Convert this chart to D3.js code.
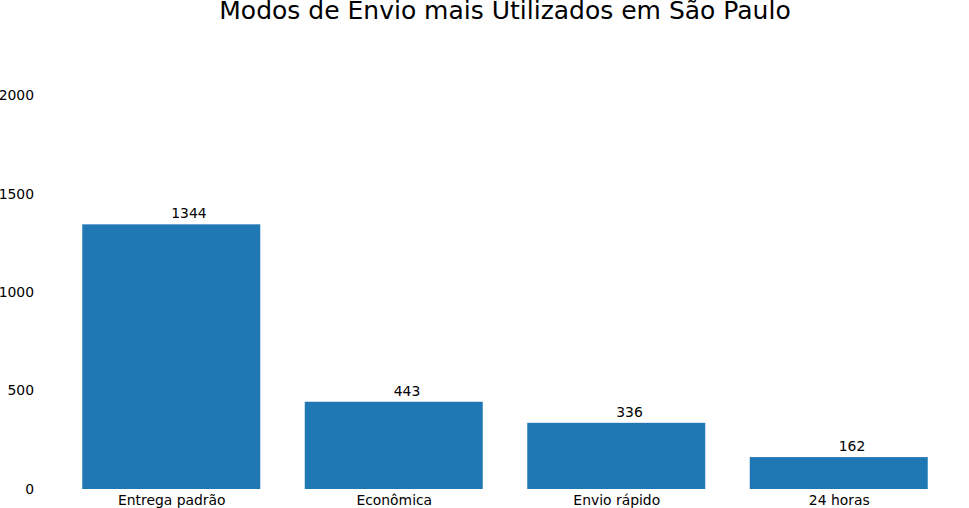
<!DOCTYPE html>
<html><head><meta charset="utf-8">
<script src="https://cdn.jsdelivr.net/npm/d3@7"></script>
<style>body{margin:0;background:#fff}svg{display:block}text{font-family:"DejaVu Sans",sans-serif;fill:#000}</style>
</head><body><svg id="c" width="969" height="508"></svg>
<script>
const categories = ["Entrega padrão","Econômica","Envio rápido","24 horas"];
const values = [1344, 443, 336, 162];
const yTicks = [0, 500, 1000, 1500, 2000];
const title = "Modos de Envio mais Utilizados em São Paulo";

(function(){
const svg = d3.select("#c");
const mL = 40, mR = 970, mT = 40, mB = 489;
const x = d3.scaleLinear().domain([-0.59, values.length - 1 + 0.59]).range([mL, mR]);
const y = d3.scaleLinear().domain([0, 2280]).range([mB, mT]);
const bw = x(0.4) - x(-0.4);
const fs = 13.9;

svg.selectAll("rect.bar").data(values).enter().append("rect").attr("class","bar")
  .attr("x", (d,i)=>x(i)-bw/2).attr("width", bw)
  .attr("y", d=>y(d)).attr("height", d=>mB-y(d)).attr("fill", "#1f77b4");

svg.selectAll("text.val").data(values).enter().append("text").attr("class","val")
  .attr("x", (d,i)=>x(i)).attr("y", d=>y(d)-6)
  .attr("font-size", fs).attr("text-anchor","start").text(d=>d);

const ya = d3.axisLeft(y).tickValues(yTicks).tickSize(0).tickPadding(6).tickFormat(d3.format("d"));
const gy = svg.append("g").attr("transform",`translate(${mL},0)`).call(ya);
gy.select(".domain").remove();
gy.selectAll("text").attr("font-size",fs).attr("font-family","DejaVu Sans").attr("fill","#000");

const xb = d3.scaleOrdinal().domain(categories).range(categories.map((c,i)=>x(i)));
const xa = d3.axisBottom(xb).tickSize(0).tickPadding(6);
const gx = svg.append("g").attr("transform",`translate(0,${mB})`).call(xa);
gx.select(".domain").remove();
gx.selectAll("text").attr("font-size",fs).attr("font-family","DejaVu Sans").attr("fill","#000");

svg.append("text").attr("x",(mL+mR)/2).attr("y",19).attr("text-anchor","middle")
  .attr("font-size",25).text(title);
})();
</script></body></html>
